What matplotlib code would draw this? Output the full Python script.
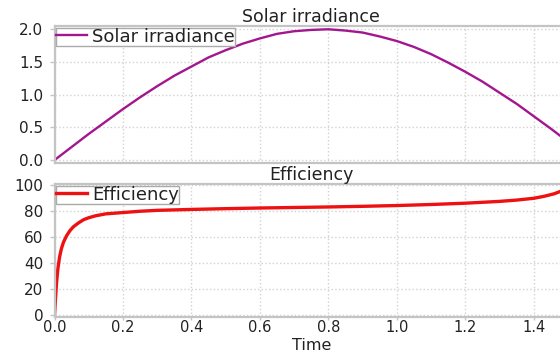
import matplotlib
matplotlib.use("Agg")
import matplotlib.pyplot as plt

# Solar irradiance over time
sun_time = [0.00, 0.05, 0.10, 0.15, 0.20, 0.25, 0.30, 0.35, 0.40, 0.45,
            0.50, 0.55, 0.60, 0.65, 0.70, 0.75, 0.80, 0.85, 0.90, 0.95,
            1.00, 1.05, 1.10, 1.15, 1.20, 1.25, 1.30, 1.35, 1.40, 1.45, 1.50]
sun_value = [0.00, 0.20, 0.40, 0.59, 0.78, 0.96, 1.13, 1.29, 1.43, 1.57,
             1.68, 1.78, 1.86, 1.93, 1.97, 1.99, 2.00, 1.98, 1.95, 1.89,
             1.82, 1.73, 1.62, 1.49, 1.35, 1.20, 1.03, 0.86, 0.67, 0.48, 0.28]

# Efficiency over time
eff_time = [0.000, 0.003, 0.006, 0.010, 0.015, 0.020, 0.026, 0.035, 0.045,
            0.055, 0.070, 0.085, 0.100, 0.120, 0.150, 0.200, 0.250, 0.300,
            0.400, 0.500, 0.600, 0.700, 0.800, 0.900, 1.000, 1.100, 1.200,
            1.250, 1.300, 1.350, 1.400, 1.430, 1.460, 1.480, 1.500]
eff_value = [0.0, 13.0, 25.0, 36.0, 45.0, 51.0, 56.0, 61.0, 65.0,
             68.0, 71.0, 73.5, 75.0, 76.5, 78.0, 79.0, 80.0, 80.7,
             81.4, 82.0, 82.5, 82.9, 83.3, 83.8, 84.4, 85.2, 86.2,
             86.9, 87.6, 88.6, 90.0, 91.5, 93.5, 95.5, 99.0]

x_ticks = [0.0, 0.2, 0.4, 0.6, 0.8, 1.0, 1.2, 1.4]
sun_ticks = [0.0, 0.5, 1.0, 1.5, 2.0]
eff_ticks = [0, 20, 40, 60, 80, 100]

W, H = 560, 354
fig = plt.figure(figsize=(W / 100, H / 100), dpi=100)

spine_col = "#c4c4c4"
grid_col = "#d2d2d2"
text_col = "#222222"


def px_axes(left, top, right, bottom):
    return fig.add_axes([left / W, 1 - bottom / H, (right - left) / W, (bottom - top) / H])


def style(ax):
    for s in ax.spines.values():
        s.set_color(spine_col)
        s.set_linewidth(1.6)
    ax.grid(True, color=grid_col, linestyle=":", linewidth=1.0)
    ax.tick_params(colors=spine_col, labelcolor=text_col, labelsize=11,
                   length=3.6, width=1.0)
    ax.tick_params(axis="y", pad=4.5)
    ax.tick_params(axis="x", labelsize=10.5, length=2, pad=0.5)
    ax.set_xlim(0, 1.5)
    ax.set_xticks(x_ticks)


BOTTOM = 317
ax1 = px_axes(54.5, 26, 568, 162.7)
ax2 = px_axes(54.5, 184, 568, BOTTOM)

style(ax1)
ax1.plot(sun_time, sun_value, color="#a2168e", linewidth=1.7, label="Solar irradiance")
ax1.set_ylim(-0.04, 2.05)
ax1.set_yticks(sun_ticks)
ax1.set_yticklabels([f"{v:.1f}" for v in sun_ticks])
ax1.tick_params(axis="x", labelbottom=False, length=0)
ax1.set_title("Solar irradiance", fontsize=12.5, color=text_col, pad=3)

style(ax2)
ax2.plot(eff_time, eff_value, color="#ee1111", linewidth=2.4, label="Efficiency")
ax2.set_ylim(-1.5, 101)
ax2.set_yticks(eff_ticks)
ax2.set_xticklabels([f"{v:.1f}" for v in x_ticks])
ax2.set_title("Efficiency", fontsize=12.5, color=text_col, pad=2.5)

# axis title pinned just above the lower figure edge
fig.text((54.5 + 568) / 2 / W, 0.5 / H, "Time", fontsize=11.5, color=text_col,
         ha="center", va="bottom")

for ax in (ax1, ax2):
    leg = ax.legend(loc="upper left", fontsize=13, frameon=True, fancybox=False,
                    framealpha=1, borderpad=0.0, borderaxespad=0.1,
                    handlelength=1.7, handletextpad=0.3)
    leg.get_frame().set_edgecolor("#aaaaaa")
    leg.get_frame().set_linewidth(1.0)
    for t in leg.get_texts():
        t.set_color(text_col)

fig.savefig("out.png", dpi=100)
